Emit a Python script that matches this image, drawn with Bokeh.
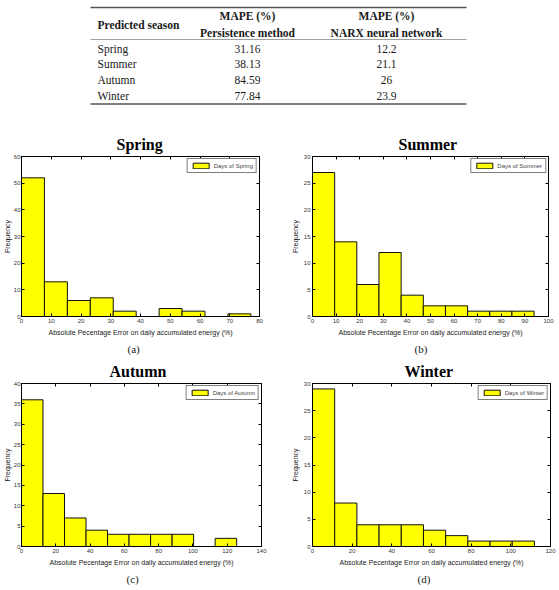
import numpy as np
from bokeh.plotting import figure
from bokeh.layouts import column, row
from bokeh.models import Range1d, LinearAxis, FixedTicker, Title, ColumnDataSource
from bokeh.embed import file_html
from bokeh.resources import INLINE
from bokeh.core.properties import value

# ---- table data ----
seasons = ["Spring", "Summer", "Autumn", "Winter"]
mape_persistence = [31.16, 38.13, 84.59, 77.84]
mape_narx = [12.2, 21.1, 26, 23.9]

# ---- histogram data (10 equal bins from 0 to the largest error) ----
spring_counts = [52, 13, 6, 7, 2, 0, 3, 2, 0, 1]
summer_counts = [27, 14, 6, 12, 4, 2, 2, 1, 1, 1]
autumn_counts = [36, 13, 7, 4, 3, 3, 3, 3, 0, 2]
winter_counts = [29, 8, 4, 4, 4, 3, 2, 1, 1, 1]
max_error = [77.1, 93.9, 125.5, 111.9]

x_ticks = [list(range(0, 81, 10)), list(range(0, 101, 10)),
           list(range(0, 141, 20)), list(range(0, 121, 20))]
y_ticks = [list(range(0, 61, 10)), list(range(0, 31, 5)),
           list(range(0, 41, 5)), list(range(0, 31, 5))]
panel_tags = ["(a)", "(b)", "(c)", "(d)"]
x_label = "Absolute Pecentage Error on daily accumulated energy (%)"
y_label = "Frequency"

SERIF = "Liberation Serif"
SANS = "Liberation Sans"
INK = "#1a1a1a"


def table_figure():
    t = figure(width=559, height=128, x_range=Range1d(0, 559), y_range=Range1d(128, 0),
               toolbar_location=None, output_backend="svg",
               x_axis_location=None, y_axis_location=None,
               min_border=0, outline_line_color=None)
    t.grid.visible = False
    # booktabs-style rules
    t.segment(x0=[90, 90, 90], y0=[7, 39, 103.5], x1=[466, 466, 466], y1=[7, 39, 103.5],
              line_color=["#555555", "#888888", "#555555"], line_width=[1.6, 0.8, 1.6])
    common = dict(text_font=value(SERIF), text_font_size="11.5px", text_color=INK,
                  text_baseline="middle")
    t.text(x=[97], y=[24], text=["Predicted season"], text_align="left",
           text_font_style="bold", **common)
    t.text(x=[247, 247, 386, 386], y=[15, 32, 15, 32],
           text=["MAPE (%)", "Persistence method", "MAPE (%)", "NARX neural network"],
           text_align="center", text_font_style="bold", **common)
    ys = [48.3 + 15.6 * i for i in range(len(seasons))]
    t.text(x=[97] * len(seasons), y=ys, text=seasons, text_align="left", **common)
    t.text(x=[247] * len(seasons), y=ys, text=[f"{v:g}" for v in mape_persistence],
           text_align="center", **common)
    t.text(x=[386] * len(seasons), y=ys, text=[f"{v:g}" for v in mape_narx],
           text_align="center", **common)
    return t


def style_axis(ax, ticks, labels=True, label_standoff=2, tick_standoff=2):
    ax.ticker = FixedTicker(ticks=ticks)
    ax.major_tick_in = 3
    ax.major_tick_out = 0
    ax.minor_tick_line_color = None
    ax.axis_line_color = "black"
    ax.major_tick_line_color = "black"
    if labels:
        ax.major_label_text_font = SANS
        ax.major_label_text_font_size = "6px"
        ax.major_label_text_color = "#333333"
        ax.major_label_standoff = tick_standoff
        ax.axis_label_text_font = SANS
        ax.axis_label_text_font_size = "7px"
        ax.axis_label_text_font_style = "normal"
        ax.axis_label_text_color = INK
        ax.axis_label_standoff = label_standoff
    else:
        # tick marks only (box axes on top and right)
        ax.major_label_text_color = None
        ax.major_label_text_font_size = "0px"
        ax.major_label_standoff = 0


def histogram(i, counts, width, height, borders, title_x, tag_x,
              ylabel_standoff=2, ytick_standoff=2):
    name = seasons[i]
    left, right, top, bottom = borders
    edges = np.linspace(0, max_error[i], len(counts) + 1)
    src = ColumnDataSource(dict(left=edges[:-1], right=edges[1:],
                                top=counts, bottom=[0] * len(counts)))
    xt, yt = x_ticks[i], y_ticks[i]
    p = figure(width=width, height=height, title=name,
               x_range=Range1d(xt[0], xt[-1]), y_range=Range1d(yt[0], yt[-1]),
               toolbar_location=None, output_backend="svg",
               min_border_left=left, min_border_right=right,
               min_border_top=top, min_border_bottom=bottom,
               background_fill_color="white", border_fill_color="white")
    p.grid.visible = False
    p.outline_line_color = "black"
    p.quad(source=src, left="left", right="right", top="top", bottom="bottom",
           fill_color="#FFFF00", line_color="#111111", line_width=1,
           legend_label=f"Days of {name}")

    p.xaxis.axis_label = x_label
    p.yaxis.axis_label = y_label
    style_axis(p.xaxis[0], xt, label_standoff=3)
    style_axis(p.yaxis[0], yt, label_standoff=ylabel_standoff, tick_standoff=ytick_standoff)
    top_ax = LinearAxis()
    right_ax = LinearAxis()
    style_axis(top_ax, xt, labels=False)
    style_axis(right_ax, yt, labels=False)
    p.add_layout(top_ax, "above")
    p.add_layout(right_ax, "right")

    p.title.text_font = SERIF
    p.title.text_font_size = "16px"
    p.title.text_font_style = "bold"
    p.title.text_color = "black"
    p.title.align = "left"
    p.title.offset = title_x
    p.title.standoff = 8

    p.add_layout(Title(text=panel_tags[i], align="left", offset=tag_x,
                       text_font=SERIF, text_font_size="11px", text_font_style="normal",
                       text_color=INK, standoff=4), "below")

    lg = p.legend[0]
    lg.location = "top_right"
    lg.margin = 2
    lg.padding = 3
    lg.spacing = 0
    lg.label_text_font = SANS
    lg.label_text_font_size = "6px"
    lg.label_height = 7
    lg.glyph_height = 7
    lg.glyph_width = 20
    lg.label_standoff = 3
    lg.border_line_color = "black"
    lg.border_line_width = 1
    lg.background_fill_color = "white"
    lg.background_fill_alpha = 1
    return p


spring = histogram(0, spring_counts, 280, 228, (18, 21, 28, 37), 95, 106,
                   ylabel_standoff=0, ytick_standoff=1)
summer = histogram(1, summer_counts, 279, 228, (32, 11, 28, 36), 86, 102)
autumn = histogram(2, autumn_counts, 280, 234, (19, 19, 27, 43), 88, 105,
                   ylabel_standoff=0, ytick_standoff=1)
winter = histogram(3, winter_counts, 279, 234, (32, 9, 26, 44), 92, 105)

layout = column(table_figure(), row(spring, summer), row(autumn, winter))
open("out.html", "w").write(file_html(layout, INLINE))
